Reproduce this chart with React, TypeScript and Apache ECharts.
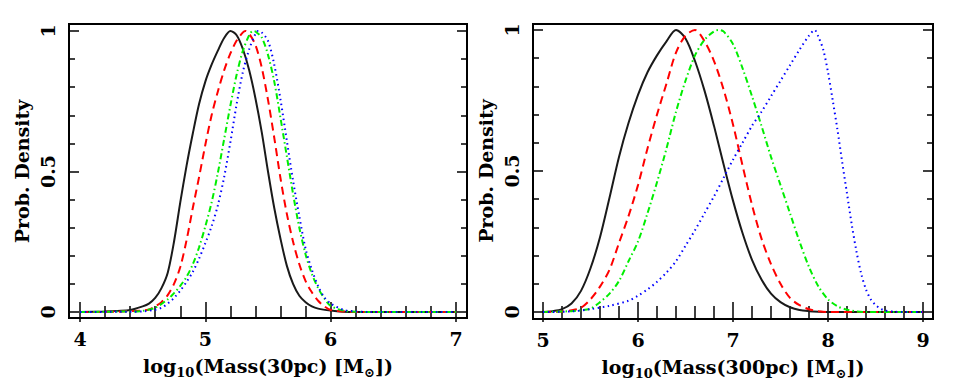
import React, { useEffect, useRef } from "react";
import * as echarts from "echarts";

// ---- Left panel: log10(Mass(30pc)) ----
const leftBlack: [number, number][] = [
  [4.0, 0], [4.2, 0.002], [4.3, 0.004], [4.4, 0.007], [4.5, 0.02], [4.55, 0.03], [4.6, 0.05],
  [4.65, 0.085], [4.7, 0.14], [4.75, 0.25], [4.8, 0.39], [4.85, 0.52], [4.9, 0.635], [4.95, 0.74],
  [5.0, 0.82], [5.05, 0.88], [5.1, 0.93], [5.15, 0.975], [5.2, 1.0], [5.25, 0.985], [5.3, 0.935],
  [5.35, 0.86], [5.4, 0.76], [5.45, 0.64], [5.5, 0.5], [5.55, 0.37], [5.6, 0.26], [5.65, 0.165],
  [5.7, 0.1], [5.75, 0.058], [5.8, 0.035], [5.85, 0.02], [5.9, 0.012], [6.0, 0.005], [6.1, 0.001],
  [6.2, 0], [7.0, 0],
];
const leftRed: [number, number][] = [
  [4.0, 0], [4.3, 0.001], [4.4, 0.003], [4.5, 0.005], [4.55, 0.009], [4.6, 0.02], [4.65, 0.035],
  [4.7, 0.06], [4.75, 0.1], [4.8, 0.16], [4.85, 0.255], [4.9, 0.37], [4.95, 0.48], [5.0, 0.595],
  [5.05, 0.7], [5.1, 0.785], [5.15, 0.86], [5.2, 0.92], [5.25, 0.966], [5.3, 0.995], [5.32, 1.0],
  [5.35, 0.99], [5.4, 0.95], [5.45, 0.87], [5.5, 0.755], [5.55, 0.62], [5.6, 0.475], [5.65, 0.35],
  [5.7, 0.25], [5.75, 0.17], [5.8, 0.11], [5.85, 0.07], [5.9, 0.04], [5.95, 0.02], [6.0, 0.007],
  [6.1, 0.002], [6.2, 0], [7.0, 0],
];
const leftGreen: [number, number][] = [
  [4.0, 0], [4.4, 0.002], [4.5, 0.004], [4.6, 0.015], [4.7, 0.045], [4.75, 0.067], [4.8, 0.093],
  [4.85, 0.125], [4.9, 0.17], [4.95, 0.23], [5.0, 0.305], [5.05, 0.39], [5.1, 0.495], [5.15, 0.615],
  [5.2, 0.735], [5.25, 0.845], [5.3, 0.93], [5.35, 0.985], [5.38, 1.0], [5.4, 0.998], [5.45, 0.977],
  [5.5, 0.915], [5.55, 0.82], [5.6, 0.69], [5.65, 0.555], [5.7, 0.42], [5.75, 0.3], [5.8, 0.205],
  [5.85, 0.135], [5.9, 0.085], [5.95, 0.048], [6.0, 0.022], [6.1, 0.005], [6.2, 0.001], [6.3, 0],
  [7.0, 0],
];
const leftBlue: [number, number][] = [
  [4.0, 0], [4.4, 0.001], [4.5, 0.002], [4.6, 0.008], [4.65, 0.015], [4.7, 0.03], [4.75, 0.05],
  [4.8, 0.076], [4.85, 0.107], [4.9, 0.143], [4.95, 0.19], [5.0, 0.245], [5.05, 0.305], [5.1, 0.38],
  [5.15, 0.48], [5.2, 0.605], [5.25, 0.74], [5.3, 0.855], [5.35, 0.935], [5.4, 0.99], [5.42, 1.0],
  [5.45, 0.995], [5.5, 0.965], [5.55, 0.88], [5.6, 0.755], [5.65, 0.61], [5.7, 0.467], [5.75, 0.34],
  [5.8, 0.225], [5.85, 0.15], [5.9, 0.092], [5.95, 0.052], [6.0, 0.03], [6.1, 0.008], [6.2, 0.002],
  [6.3, 0], [7.0, 0],
];

// ---- Right panel: log10(Mass(300pc)) ----
const rightBlack: [number, number][] = [
  [5.0, 0], [5.1, 0.003], [5.2, 0.01], [5.3, 0.03], [5.4, 0.075], [5.5, 0.155], [5.6, 0.265],
  [5.7, 0.405], [5.8, 0.55], [5.9, 0.67], [6.0, 0.77], [6.1, 0.85], [6.2, 0.91], [6.3, 0.96],
  [6.4, 1.0], [6.5, 0.97], [6.6, 0.89], [6.7, 0.785], [6.8, 0.66], [6.9, 0.525], [7.0, 0.395],
  [7.1, 0.28], [7.2, 0.185], [7.3, 0.115], [7.4, 0.065], [7.5, 0.035], [7.6, 0.017], [7.7, 0.007],
  [7.8, 0.003], [7.9, 0.001], [8.0, 0], [9.0, 0],
];
const rightRed: [number, number][] = [
  [5.0, 0], [5.2, 0.002], [5.3, 0.006], [5.4, 0.015], [5.5, 0.045], [5.6, 0.09], [5.7, 0.15],
  [5.8, 0.245], [5.9, 0.34], [6.0, 0.45], [6.1, 0.58], [6.2, 0.7], [6.3, 0.81], [6.4, 0.92],
  [6.5, 0.98], [6.6, 1.0], [6.7, 0.96], [6.8, 0.89], [6.9, 0.79], [7.0, 0.665], [7.1, 0.52],
  [7.2, 0.38], [7.3, 0.26], [7.4, 0.17], [7.5, 0.1], [7.6, 0.05], [7.7, 0.024], [7.8, 0.01],
  [7.9, 0.003], [8.0, 0], [9.0, 0],
];
const rightGreen: [number, number][] = [
  [5.0, 0], [5.3, 0.003], [5.4, 0.006], [5.5, 0.012], [5.6, 0.035], [5.7, 0.065], [5.8, 0.11],
  [5.9, 0.18], [6.0, 0.25], [6.1, 0.35], [6.2, 0.46], [6.3, 0.58], [6.4, 0.71], [6.5, 0.82],
  [6.6, 0.91], [6.7, 0.965], [6.8, 0.995], [6.85, 1.0], [6.9, 0.995], [7.0, 0.95], [7.1, 0.865],
  [7.2, 0.765], [7.3, 0.66], [7.4, 0.55], [7.5, 0.45], [7.6, 0.35], [7.7, 0.25], [7.8, 0.16],
  [7.9, 0.09], [8.0, 0.045], [8.1, 0.02], [8.2, 0.008], [8.3, 0.002], [8.4, 0], [9.0, 0],
];
const rightBlue: [number, number][] = [
  [5.0, 0], [5.3, 0.002], [5.5, 0.01], [5.7, 0.022], [5.9, 0.04], [6.0, 0.058], [6.1, 0.08],
  [6.2, 0.107], [6.3, 0.14], [6.4, 0.18], [6.5, 0.235], [6.6, 0.29], [6.7, 0.35], [6.8, 0.41],
  [6.9, 0.475], [7.0, 0.54], [7.1, 0.6], [7.2, 0.66], [7.3, 0.71], [7.4, 0.765], [7.5, 0.82],
  [7.6, 0.875], [7.7, 0.93], [7.8, 0.98], [7.86, 1.0], [7.9, 0.975], [7.95, 0.93], [8.0, 0.85],
  [8.05, 0.75], [8.1, 0.645], [8.15, 0.53], [8.2, 0.42], [8.25, 0.31], [8.3, 0.214], [8.35, 0.135],
  [8.4, 0.08], [8.45, 0.045], [8.5, 0.025], [8.55, 0.012], [8.6, 0.005], [8.7, 0.001], [8.8, 0],
  [9.0, 0],
];

const leftXRange = [4, 7];
const rightXRange = [5, 9];
const yRange = [0, 1];
const yLabelName = "Prob. Density";
const leftXName = "{n|log}{s|10}{n|(Mass(30pc) [M}{s|⊙}{n|])}";
const rightXName = "{n|log}{s|10}{n|(Mass(300pc) [M}{s|⊙}{n|])}";

const FONT = "DejaVu Serif";

export default function App() {
  const ref = useRef<HTMLDivElement>(null);
  useEffect(() => {
    if (!ref.current) return;
    const chart = echarts.init(ref.current, null, { renderer: "svg" });

    const tickStyle = { color: "#000", width: 1.5 };
    const common = {
      axisLine: { show: false },
      splitLine: { show: false },
      axisTick: { show: true, inside: true, length: 10, lineStyle: tickStyle },
      minorTick: { show: true, splitNumber: 5, length: 6, lineStyle: tickStyle },
    };
    const nameStyle = {
      color: "#000",
      fontFamily: FONT,
      fontWeight: "bold",
      rich: {
        n: { fontFamily: FONT, fontWeight: "bold", fontSize: 19, lineHeight: 22, verticalAlign: "top", color: "#000" },
        s: { fontFamily: FONT, fontWeight: "bold", fontSize: 13, lineHeight: 13, verticalAlign: "bottom", padding: [13, 0, 0, 0], color: "#000" },
      },
    };
    const labelStyle = { color: "#000", fontFamily: FONT, fontWeight: "bold", fontSize: 19 };

    const xBottom = (gi: number, range: number[], name: string, offset: number) => ({
      ...common,
      gridIndex: gi,
      type: "value",
      position: "bottom",
      offset,
      min: range[0],
      max: range[1],
      interval: 1,
      axisLabel: { ...labelStyle, margin: 11 },
      name,
      nameLocation: "middle",
      nameGap: 34,
      nameTextStyle: nameStyle,
    });
    const xTop = (gi: number, range: number[], offset: number) => ({
      ...common,
      gridIndex: gi,
      type: "value",
      position: "top",
      offset,
      min: range[0],
      max: range[1],
      interval: 1,
      axisLabel: { show: false },
    });
    const yLeft = (gi: number, offset: number) => ({
      ...common,
      gridIndex: gi,
      type: "value",
      position: "left",
      offset,
      min: yRange[0],
      max: yRange[1],
      interval: 0.5,
      axisLabel: { ...labelStyle, rotate: 90, margin: 12 },
      name: yLabelName,
      nameLocation: "middle",
      nameRotate: 90,
      nameGap: 38,
      nameTextStyle: { color: "#000", fontFamily: FONT, fontWeight: "bold", fontSize: 19 },
    });
    const yRight = (gi: number, offset: number) => ({
      ...common,
      gridIndex: gi,
      type: "value",
      position: "right",
      offset,
      min: yRange[0],
      max: yRange[1],
      interval: 0.5,
      axisLabel: { show: false },
    });

    const mk = (data: [number, number][], xi: number, yi: number, color: string, type: any, width: number) => ({
      type: "line",
      xAxisIndex: xi,
      yAxisIndex: yi,
      data,
      showSymbol: false,
      smooth: 0.3,
      lineStyle: { color, type, width, cap: "butt" },
      z: 3,
    });
    const dashed = [8, 5];
    const dashDot = [6, 3, 1.5, 3];
    const dotted = [1.5, 3.5];

    chart.setOption({
      animation: false,
      backgroundColor: "#fff",
      grid: [
        { left: 80, top: 31, width: 376, height: 281 },
        { left: 543, top: 30, width: 380, height: 282 },
      ],
      xAxis: [
        xBottom(0, leftXRange, leftXName, 6),
        xTop(0, leftXRange, 7),
        xBottom(1, rightXRange, rightXName, 7),
        xTop(1, rightXRange, 6),
      ],
      yAxis: [yLeft(0, 11), yRight(0, 11), yLeft(1, 10), yRight(1, 10)],
      graphic: [
        { type: "rect", shape: { x: 69, y: 24, width: 398, height: 294 }, style: { fill: "none", stroke: "#000", lineWidth: 2 }, z: 10 },
        { type: "rect", shape: { x: 533, y: 24, width: 400, height: 295 }, style: { fill: "none", stroke: "#000", lineWidth: 2 }, z: 10 },
      ],
      series: [
        mk(leftBlack, 0, 0, "#1a1a1a", "solid", 2),
        mk(leftRed, 0, 0, "#ff0000", dashed, 2),
        mk(leftGreen, 0, 0, "#00ee00", dashDot, 2),
        mk(leftBlue, 0, 0, "#0000ff", dotted, 2),
        mk(rightBlack, 2, 2, "#1a1a1a", "solid", 2),
        mk(rightRed, 2, 2, "#ff0000", dashed, 2),
        mk(rightGreen, 2, 2, "#00ee00", dashDot, 2),
        mk(rightBlue, 2, 2, "#0000ff", dotted, 2),
      ],
    });
    return () => chart.dispose();
  }, []);
  return <div ref={ref} style={{ position: "fixed", left: 0, top: 0, width: 955, height: 392, background: "#fff" }} />;
}
